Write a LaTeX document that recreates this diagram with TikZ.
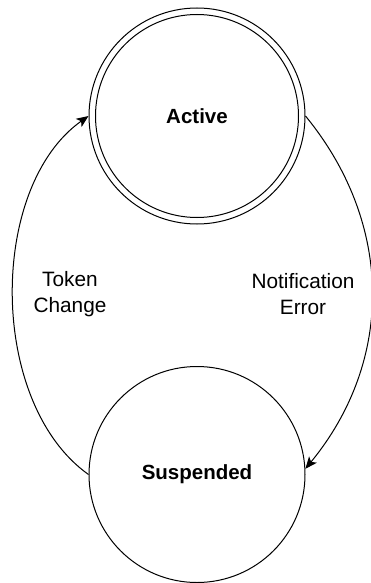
\documentclass[tikz,border=0pt]{standalone}
\usepackage{fontspec}
\setmainfont{Liberation Sans}
\usetikzlibrary{arrows.meta}
\begin{document}
\begin{tikzpicture}[x=1pt,y=-1pt,
  state/.style={circle,draw,line width=1pt,minimum size=216pt,inner sep=0pt,font=\fontsize{20.5}{25}\selectfont\bfseries},
  lbl/.style={align=center,font=\fontsize{20.8}{25.5}\selectfont},
  trans/.style={line width=1pt,-{Stealth[length=12pt,width=10pt,inset=3pt]}}]
\useasboundingbox (0,0) rectangle (370,583);
\node[state] (act) at (197,116) {Active};
\draw[line width=1pt] (act.center) circle (101.5pt);
\node[state] (susp) at (197,474.5) {Suspended};
\draw[trans] (susp.west) .. controls (-12,403) and (-12,187) .. (act.west);
\draw[trans] (act.east) .. controls (394,224) and (394,361) .. (susp.3.5);
\node[lbl] (l1) at (70,294) {Token\\Change};
\node[lbl] (l2) at (303,294) {Notification\\Error};
\end{tikzpicture}
\end{document}
